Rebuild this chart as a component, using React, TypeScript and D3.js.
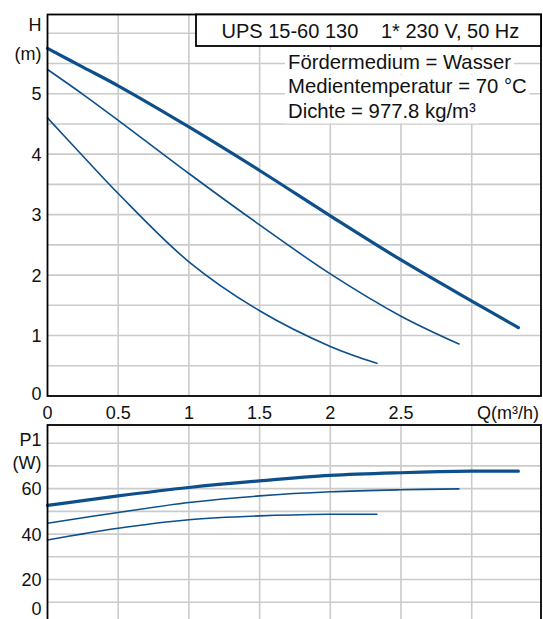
import React, { useEffect, useRef, useState } from "react";
import * as d3 from "d3";

// pump curves, UPS 15-60 130 (speeds 3, 2, 1)
const qHigh = [0, 0.25, 0.5, 1, 1.5, 2, 2.5, 3, 3.33];
const hHigh = [5.75, 5.44, 5.13, 4.45, 3.73, 2.98, 2.25, 1.57, 1.13];
const qMid = [0, 0.25, 0.5, 1, 1.5, 2, 2.5, 2.91];
const hMid = [5.4, 4.99, 4.56, 3.68, 2.83, 2.02, 1.32, 0.86];
const qLow = [0, 0.25, 0.5, 1, 1.5, 2, 2.33];
const hLow = [4.6, 3.97, 3.35, 2.22, 1.41, 0.82, 0.54];

const pHigh = [52.6, 54.7, 56.8, 60.5, 63.4, 65.8, 67.0, 67.7, 67.7];
const pMid = [44.8, 47.2, 49.5, 53.9, 56.8, 58.6, 59.5, 59.9];
const pLow = [37.4, 40.1, 42.6, 46.3, 48.0, 48.7, 48.7];

const hTicks = [0, 1, 2, 3, 4, 5];
const pTicks = [0, 20, 40, 60];
const qTicks = [0, 0.5, 1, 1.5, 2, 2.5];
const qGrid = [0.5, 1, 1.5, 2, 2.5, 3];
const hGrid = d3.range(1, 13).map(d => d / 2);
const pGrid = d3.range(1, 9).map(d => d * 10);

const title1 = "UPS 15-60 130";
const title2 = "1* 230 V, 50 Hz";
const infoLines = ["Fördermedium = Wasser", "Medientemperatur = 70 °C", "Dichte = 977.8 kg/m³"];

const W = 543;
const H = 619;
const FONT = "'Liberation Sans', Arial, sans-serif";
const BLUE = "#0d4f8b";
const GRID = "#cbcbcb";
const TICK = 18;

const x = d3.scaleLinear().domain([0, 3.49]).range([47.5, 541]);
const yH = d3.scaleLinear().domain([0, 6.31]).range([396, 14.5]);
const yP = d3.scaleLinear().domain([0, 88]).range([625, 425]);

const InfoText = () => {
  const refs = useRef<(SVGTextElement | null)[]>([]);
  const [widths, setWidths] = useState<number[]>([]);
  useEffect(() => {
    setWidths(refs.current.map(t => (t ? t.getComputedTextLength() : 0)));
  }, []);
  return (
    <g>
      {infoLines.map((s, i) => (
        <g key={s}>
          <rect x={285} y={50 + i * 24.7} width={(widths[i] || 0) + 6} height={24} fill="#fff" />
          <text
            ref={el => { refs.current[i] = el; }}
            x={288}
            y={68.5 + i * 24.7}
            fontSize={20.3}
            fontFamily={FONT}
            fill="#111"
          >
            {s}
          </text>
        </g>
      ))}
    </g>
  );
};

export default function App() {
  const lineH = d3.line<[number, number]>().x(d => x(d[0])).y(d => yH(d[1])).curve(d3.curveCatmullRom);
  const lineP = d3.line<[number, number]>().x(d => x(d[0])).y(d => yP(d[1])).curve(d3.curveCatmullRom);
  const zip = (a: number[], b: number[]) => a.map((v, i) => [v, b[i]] as [number, number]);

  const hSeries = [
    { d: zip(qHigh, hHigh), w: 3.2 },
    { d: zip(qMid, hMid), w: 1.6 },
    { d: zip(qLow, hLow), w: 1.6 },
  ];
  const pSeries = [
    { d: zip(qHigh, pHigh), w: 3.2 },
    { d: zip(qMid, pMid), w: 1.6 },
    { d: zip(qLow, pLow), w: 1.6 },
  ];

  const [x0, x1] = x.range();

  return (
    <svg width={W} height={H} style={{ position: "absolute", left: 0, top: 0, background: "#fff" }}>
      {/* top chart: head */}
      <g>
        {qGrid.map(q => (
          <line key={"vq" + q} x1={x(q)} x2={x(q)} y1={yH(0)} y2={yH(6.31)} stroke={GRID} strokeWidth={1.6} />
        ))}
        {hGrid.map(h => (
          <line key={"hh" + h} x1={x0} x2={x1} y1={yH(h)} y2={yH(h)} stroke={GRID} strokeWidth={1.6} />
        ))}
        <InfoText />
        {hSeries.map((s, i) => (
          <path key={i} d={lineH(s.d) || ""} fill="none" stroke={BLUE} strokeWidth={s.w} strokeLinecap="round" />
        ))}
        <rect x={x0} y={yH(6.31)} width={x1 - x0} height={yH(0) - yH(6.31)} fill="none" stroke="#000" strokeWidth={1.8} />
        <rect x={196} y={14.5} width={x1 - 196} height={31.5} fill="#fff" stroke="#000" strokeWidth={1.8} />
        <text x={221.5} y={37.5} fontSize={20} fontFamily={FONT} fill="#111">{title1}</text>
        <text x={381} y={37.5} fontSize={20} fontFamily={FONT} fill="#111">{title2}</text>

        {hTicks.map(h => (
          <text key={"th" + h} x={41.5} y={Math.min(yH(h), 393) + 6.5} fontSize={TICK} fontFamily={FONT} textAnchor="end" fill="#111">
            {h}
          </text>
        ))}
        <text x={41.5} y={31} fontSize={TICK} fontFamily={FONT} textAnchor="end" fill="#111">H</text>
        <text x={41.5} y={60} fontSize={TICK} fontFamily={FONT} textAnchor="end" fill="#111">(m)</text>

        {qTicks.map(q => (
          <text key={"tq" + q} x={x(q)} y={419} fontSize={TICK} fontFamily={FONT} textAnchor="middle" fill="#111">
            {q}
          </text>
        ))}
        <text x={539} y={419} fontSize={TICK} fontFamily={FONT} textAnchor="end" fill="#111">Q(m³/h)</text>
      </g>

      {/* bottom chart: power */}
      <g>
        {qGrid.map(q => (
          <line key={"vp" + q} x1={x(q)} x2={x(q)} y1={yP(88)} y2={H + 10} stroke={GRID} strokeWidth={1.6} />
        ))}
        {pGrid.map(p => (
          <line key={"hp" + p} x1={x0} x2={x1} y1={yP(p)} y2={yP(p)} stroke={GRID} strokeWidth={1.6} />
        ))}
        {pSeries.map((s, i) => (
          <path key={i} d={lineP(s.d) || ""} fill="none" stroke={BLUE} strokeWidth={s.w} strokeLinecap="round" />
        ))}
        <rect x={x0} y={yP(88)} width={x1 - x0} height={H + 20 - yP(88)} fill="none" stroke="#000" strokeWidth={1.8} />
        {pTicks.map(p => (
          <text key={"tp" + p} x={41.5} y={Math.min(yP(p) + 6.5, 615)} fontSize={TICK} fontFamily={FONT} textAnchor="end" fill="#111">
            {p}
          </text>
        ))}
        <text x={41.5} y={445.5} fontSize={TICK} fontFamily={FONT} textAnchor="end" fill="#111">P1</text>
        <text x={41.5} y={468.5} fontSize={TICK} fontFamily={FONT} textAnchor="end" fill="#111">(W)</text>
      </g>
    </svg>
  );
}
